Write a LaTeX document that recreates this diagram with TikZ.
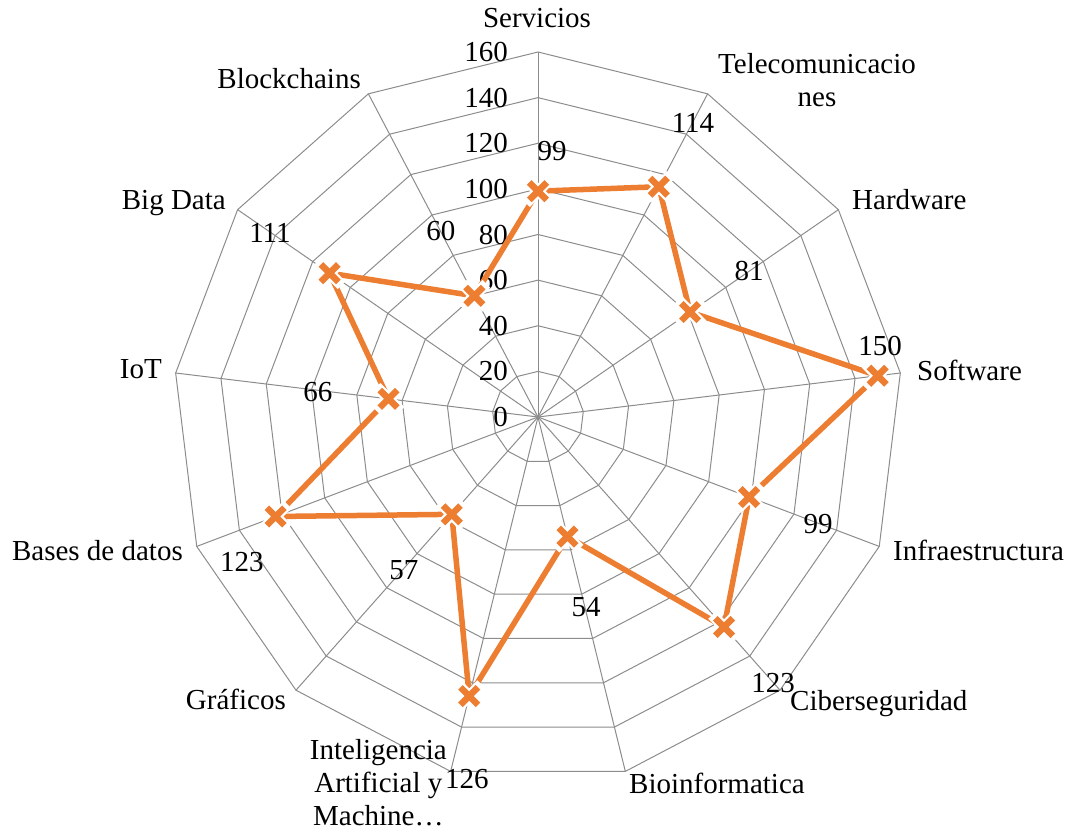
\documentclass[tikz,border=0pt]{standalone}
\usepackage{fontspec}
\setmainfont{Liberation Serif}
\usetikzlibrary{shapes.misc}
\definecolor{gridgray}{RGB}{140,140,140}
\definecolor{seriesorange}{RGB}{237,125,49}

\begin{document}
\begin{tikzpicture}[x=1pt,y=1pt,font=\fontsize{29}{33}\selectfont,
  grid/.style={gridgray,line width=1pt},
  series/.style={seriesorange,line width=5.5pt,line join=round},
  markx/.style={cross out,draw=seriesorange,line width=6.5pt,minimum size=11pt,inner sep=0pt},
  markgap/.style={cross out,draw=white,line width=11pt,minimum size=13pt,inner sep=0pt},
  catlabel/.style={inner sep=0pt},
  vallabel/.style={inner sep=0pt}]
\useasboundingbox (-538,-416) rectangle (535,417);
% 160 -> 365, 13 axes
\def\sc{2.28125}
\def\da{27.6923}
\coordinate (o) at (0,0);

\foreach \v in {20,40,...,160}
  \draw[grid] (90:\v*\sc) \foreach \k in {1,...,12} { -- (90-\k*\da:\v*\sc) } -- cycle;
\foreach \k in {0,...,12}
  \draw[grid] (o) -- (90-\k*\da:160*\sc);

\foreach \v in {0,20,...,160}
  \node[anchor=east,inner sep=0pt] (r\v) at (-30,\v*\sc) {\v};

% categories
\node[catlabel,anchor=base] (servicios) at (-1,389) {Servicios};
\node[catlabel,anchor=north west,align=center] (telecom) at (180,364) {Telecomunicacio\\nes};
\node[catlabel,anchor=base west] (hardware) at (314,207) {Hardware};
\node[catlabel,anchor=base west] (software) at (379,37) {Software};
\node[catlabel,anchor=base west] (infra) at (355,-143) {Infraestructura};
\node[catlabel,anchor=base west] (ciber) at (252,-293) {Ciberseguridad};
\node[catlabel,anchor=base west] (bioinfo) at (91,-376) {Bioinformatica};
\node[catlabel,anchor=north east,align=center] (ia) at (-91,-322) {Inteligencia\\Artificial y\\Machine…};
\node[catlabel,anchor=base east] (graficos) at (-252,-292) {Gráficos};
\node[catlabel,anchor=base east] (bases) at (-355,-143) {Bases de datos};
\node[catlabel,anchor=base east] (iot) at (-376,39) {IoT};
\node[catlabel,anchor=base east] (bigdata) at (-312,207) {Big Data};
\node[catlabel,anchor=base east] (blockchains) at (-177,328) {Blockchains};

% series
\foreach \k/\v in {0/99,1/114,2/81,3/150,4/99,5/123,6/54,7/126,8/57,9/123,10/66,11/111,12/60}
  \coordinate (p\k) at (90-\k*\da:\v*\sc);
\draw[series] (p0) \foreach \k in {1,...,12} { -- (p\k) } -- cycle;
\foreach \k in {0,...,12} {
  \node[markgap] at (p\k) {};
  \node[markx] (m\k) at (p\k) {};
}

\foreach \n/\x/\y/\t in {0/14/266/99, 1/155/294/114, 2/211/146/81, 3/342/71/150, 4/280/-107/99,
  5/235/-266/123, 6/48/-190/54, 7/-71/-362/126, 8/-134/-153/57, 9/-296/-145/123,
  10/-220/25/66, 11/-268/184/111, 12/-97/186/60}
  \node[vallabel] (v\n) at (\x,\y) {\t};
\end{tikzpicture}
\end{document}
